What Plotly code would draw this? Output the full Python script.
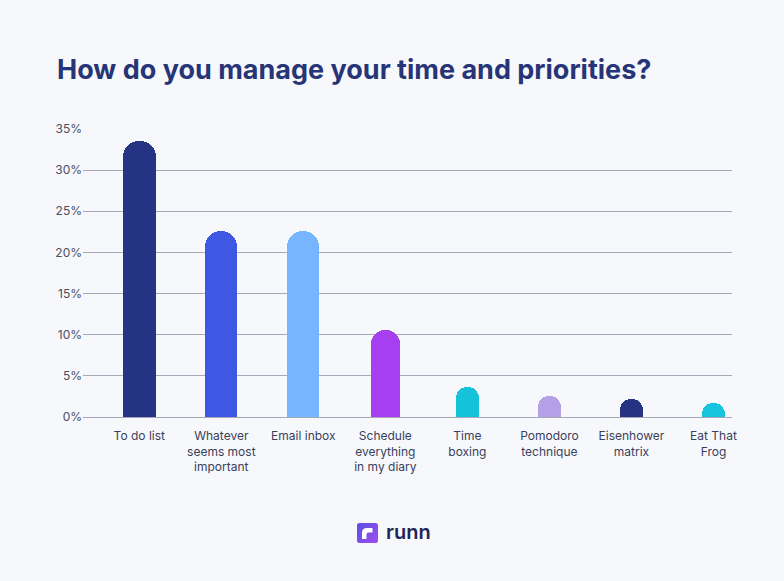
import plotly.graph_objects as go

# ---- data ----
categories = [
    "To do list",
    "Whatever<br>seems most<br>important",
    "Email inbox",
    "Schedule<br>everything<br>in my diary",
    "Time<br>boxing",
    "Pomodoro<br>technique",
    "Eisenhower<br>matrix",
    "Eat That<br>Frog",
]
values = [33.6, 22.6, 22.6, 10.6, 3.6, 2.6, 2.2, 1.75]
y_ticks = [0, 5, 10, 15, 20, 25, 30, 35]
y_tick_labels = [f"{v}%" for v in y_ticks]
title_text = "How do you manage your time and priorities?"

# ---- styles ----
colors = ["#253384", "#3F58E3", "#76B5FF", "#A63FEF",
          "#14C3DA", "#B5A0E8", "#263282", "#16C4DD"]
bar_widths = [0.40, 0.39, 0.39, 0.36, 0.28, 0.28, 0.28, 0.28]
BG = "#F7F8FB"
GRID = "#A8A9B8"

W, H = 784, 581
L, R, T, B = 83, 52, 129, 164
pw, ph = W - L - R, H - T - B

fig = go.Figure(go.Bar(
    x=categories, y=values,
    marker=dict(color=colors, line=dict(width=0), cornerradius="50%"),
    width=bar_widths,
    hoverinfo="skip",
))

def px_x(p):
    return (p - L) / pw

def px_y(p):
    return (H - B - p) / ph

icon_svg = (
    "data:image/svg+xml;utf8,"
    "<svg xmlns='http://www.w3.org/2000/svg' width='21' height='20' viewBox='0 0 21 20'>"
    "<defs><linearGradient id='g' x1='0' y1='0' x2='1' y2='1'>"
    "<stop offset='0' stop-color='%235A4FE6'/><stop offset='1' stop-color='%23A24DEB'/>"
    "</linearGradient></defs>"
    "<rect x='0' y='0' width='21' height='20' rx='2.5' fill='url(%23g)'/>"
    "<path d='M5,16 V9.5 Q5,5 10,5 H15.5 V9.5 H11.5 Q9.5,9.5 9.5,11.5 V16 Z' fill='white'/>"
    "</svg>"
)

fig.update_layout(
    width=W, height=H,
    margin=dict(l=L, r=R, t=T, b=B),
    paper_bgcolor=BG, plot_bgcolor=BG,
    font=dict(family="Inter", color="#3A3F5C", size=12),
    showlegend=False,
    bargap=0,
    title=dict(
        text=title_text,
        font=dict(family="Inter", size=27, color="#263577", weight=700),
        xref="container", yref="container",
        x=57 / W, xanchor="left",
        y=1 - 70 / H, yanchor="middle",
    ),
    xaxis=dict(
        range=[-0.686, 7.226],
        showgrid=False, zeroline=False, showline=False,
        ticks="", tickfont=dict(size=12, color="#3A3F5C"),
        ticklabelstandoff=10,
        fixedrange=True,
    ),
    yaxis=dict(
        range=[0, 35],
        tickmode="array", tickvals=y_ticks, ticktext=y_tick_labels,
        showgrid=True, gridcolor=GRID, gridwidth=1,
        zeroline=True, zerolinecolor=GRID, zerolinewidth=1,
        showline=False, ticks="",
        tickfont=dict(size=12, color="#4A4E62"),
        fixedrange=True,
    ),
    images=[dict(
        source=icon_svg, xref="paper", yref="paper",
        x=px_x(357), y=px_y(523), sizex=21 / pw, sizey=20 / ph,
        xanchor="left", yanchor="top", sizing="stretch", layer="above",
    )],
    annotations=[dict(
        text="runn", xref="paper", yref="paper",
        x=px_x(384), y=px_y(532), xanchor="left", yanchor="middle",
        showarrow=False,
        font=dict(family="Inter", size=20, color="#1F2557", weight=600),
    )],
)

fig.write_html(
    "out.html",
    config={"displayModeBar": False},
    post_script="document.body.style.margin='0';document.body.style.background='#F7F8FB';",
)
